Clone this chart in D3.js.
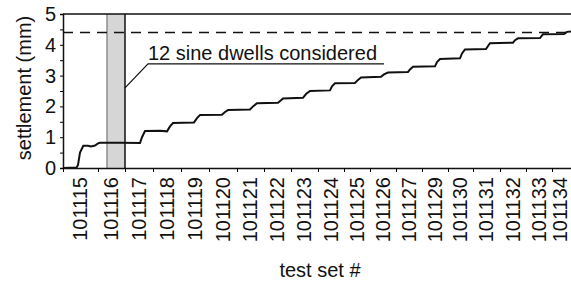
<!DOCTYPE html>
<html>
<head>
<meta charset="utf-8">
<script src="https://cdn.jsdelivr.net/npm/d3@7"></script>
<style>
  body { margin: 0; background: #fff; }
  text { font-family: "Liberation Sans", Arial, sans-serif; fill: #111; }
</style>
</head>
<body>
<script>
// test sets along the time axis
const setLabels = ["101115", "101116", "101117", "101118", "101119", "101120", "101121",
    "101122", "101123", "101124", "101125", "101126", "101127", "101129", "101130",
    "101131", "101132", "101133", "101134"];
// boundaries of each test set (time units)
const setEdges = [0, 35, 62, 90, 118, 146, 174, 201, 228, 255, 281, 307, 333, 359,
    385, 410, 437, 463, 489, 508];

// settlement curve
const timeVals = [0, 13.7, 15, 17, 20.3, 25, 28, 32, 35, 37, 57, 77, 79, 82, 97, 104, 107, 110,
    131, 134, 137, 159, 162, 165, 187, 190, 194, 215, 218, 220, 240, 243, 247, 267, 269, 272,
    292, 295, 298, 318, 321, 325, 345, 347, 350, 372, 374, 377, 397, 399, 402, 423, 425, 427,
    450, 452, 455, 477, 478.5, 480, 501, 504, 508];
const settleVals = [0, 0.02, 0.1, 0.5, 0.72, 0.72, 0.7, 0.73, 0.8, 0.82, 0.82, 0.81, 1.0, 1.2, 1.21, 1.19, 1.35, 1.46,
    1.48, 1.62, 1.72, 1.73, 1.82, 1.88, 1.9, 2.0, 2.1, 2.12, 2.2, 2.26, 2.28, 2.4, 2.5, 2.52, 2.65, 2.75,
    2.76, 2.86, 2.94, 2.96, 3.04, 3.1, 3.12, 3.2, 3.29, 3.3, 3.44, 3.54, 3.56, 3.72, 3.85, 3.86, 3.96, 4.05,
    4.07, 4.15, 4.21, 4.22, 4.28, 4.34, 4.35, 4.42, 4.43];

const limitValue = 4.4;
const dwellWindow = [44, 62];
const yTicks = [0, 0.5, 1, 1.5, 2, 2.5, 3, 3.5, 4, 4.5, 5];
const noteText = "12 sine dwells considered";

const width = 571, height = 282;
const svg = d3.select("body").append("svg")
    .attr("width", width)
    .attr("height", height);

const x = d3.scaleLinear().domain([0, 508]).range([63, 571]);
const y = d3.scaleLinear().domain([0, 5]).range([168, 14]);

// grey window of the 12 dwells
svg.append("rect")
    .attr("x", x(dwellWindow[0]))
    .attr("y", y(5))
    .attr("width", x(dwellWindow[1]) - x(dwellWindow[0]))
    .attr("height", y(0) - y(5))
    .attr("fill", "#d6d6d6");
svg.append("line")
    .attr("x1", x(dwellWindow[0])).attr("x2", x(dwellWindow[0]))
    .attr("y1", y(5)).attr("y2", y(0))
    .attr("stroke", "#8c8c8c").attr("stroke-width", 1.5);
svg.append("line")
    .attr("x1", x(dwellWindow[1])).attr("x2", x(dwellWindow[1]))
    .attr("y1", y(5)).attr("y2", y(0))
    .attr("stroke", "#111").attr("stroke-width", 1.5);

// limit line
svg.append("line")
    .attr("x1", x(0)).attr("x2", x(508))
    .attr("y1", y(limitValue)).attr("y2", y(limitValue))
    .attr("stroke", "#111")
    .attr("stroke-width", 1.5)
    .attr("stroke-dasharray", "10,7");

// top frame
svg.append("line")
    .attr("x1", x(0)).attr("x2", x(508))
    .attr("y1", y(5)).attr("y2", y(5))
    .attr("stroke", "#111").attr("stroke-width", 1.5);

// annotation leader
const notePts = [[dwellWindow[1], 2.6], [85, 3.38], [321, 3.38]];
svg.append("path")
    .attr("d", d3.line().x(d => x(d[0])).y(d => y(d[1]))(notePts))
    .attr("fill", "none")
    .attr("stroke", "#111")
    .attr("stroke-width", 1.2);
svg.append("text")
    .attr("x", x(85))
    .attr("y", y(3.38) - 4)
    .attr("font-size", 20)
    .text(noteText);

// settlement line
const pts = timeVals.map((t, i) => [t, settleVals[i]]);
svg.append("path")
    .attr("d", d3.line().x(d => x(d[0])).y(d => y(d[1]))(pts))
    .attr("fill", "none")
    .attr("stroke", "#111")
    .attr("stroke-width", 2);

// y axis
const yAxis = d3.axisLeft(y)
    .tickValues(yTicks)
    .tickSize(3)
    .tickPadding(4)
    .tickFormat(d => Number.isInteger(d) ? d : "");
const gy = svg.append("g")
    .attr("transform", "translate(63,0)")
    .call(yAxis);
gy.select(".domain").attr("stroke", "#111").attr("stroke-width", 1.5);
gy.selectAll("text").attr("font-size", 20).attr("font-family", null);

// x axis
const xAxis = d3.axisBottom(x)
    .tickValues(setEdges.slice(0, -1))
    .tickSize(4)
    .tickSizeOuter(0)
    .tickFormat("");
const gx = svg.append("g")
    .attr("transform", "translate(0,168)")
    .call(xAxis);
gx.select(".domain").attr("stroke", "#111").attr("stroke-width", 1.5);

// set labels
svg.selectAll(".setLabel")
    .data(setLabels)
    .enter().append("text")
    .attr("class", "setLabel")
    .attr("transform", (d, i) => {
        let mid = (x(setEdges[i]) + x(setEdges[i + 1])) / 2;
        mid = Math.min(mid, 560);
        return "translate(" + mid + ",177) rotate(-90)";
    })
    .attr("dy", "0.34em")
    .attr("text-anchor", "end")
    .attr("font-size", 20)
    .text(d => d);

// axis titles
svg.append("text")
    .attr("transform", "translate(31,88) rotate(-90)")
    .attr("text-anchor", "middle")
    .attr("font-size", 20)
    .text("settlement (mm)");

svg.append("text")
    .attr("x", 320)
    .attr("y", 277)
    .attr("text-anchor", "middle")
    .attr("font-size", 20)
    .text("test set #");
</script>
</body>
</html>
